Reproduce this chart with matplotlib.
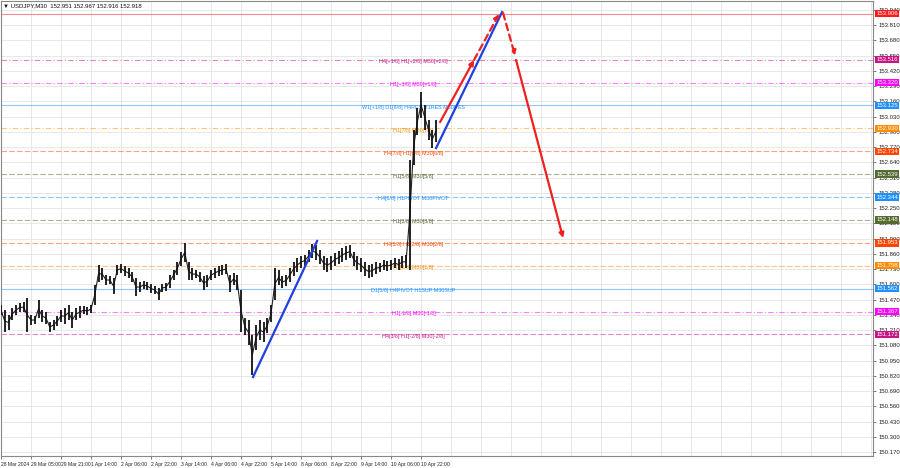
import numpy as np
from matplotlib import pyplot as plt
import matplotlib.transforms as mtransforms
from matplotlib import font_manager

# USDJPY M30, one high/low pair per 4 bars
hi = [151.423, 151.380, 151.338, 151.397, 151.423, 151.440, 151.448, 151.483, 151.338, 151.329,
      151.466, 151.380, 151.363, 151.278, 151.295, 151.329, 151.380, 151.397, 151.423, 151.363,
      151.397, 151.414, 151.414, 151.406, 151.423, 151.594, 151.764, 151.738, 151.679, 151.670,
      151.653, 151.764, 151.772, 151.755, 151.738, 151.704, 151.653, 151.619, 151.628, 151.619,
      151.602, 151.585, 151.568, 151.602, 151.611, 151.679, 151.721, 151.789, 151.875, 151.951,
      151.789, 151.738, 151.721, 151.704, 151.670, 151.679, 151.721, 151.738, 151.755, 151.764,
      151.772, 151.679, 151.696, 151.679, 151.551, 151.312, 151.295, 151.167, 151.253, 151.295,
      151.278, 151.312, 151.423, 151.738, 151.721, 151.670, 151.679, 151.738, 151.789, 151.824,
      151.841, 151.849, 151.892, 151.943, 151.934, 151.892, 151.841, 151.824, 151.841, 151.866,
      151.883, 151.909, 151.926, 151.934, 151.875, 151.841, 151.824, 151.789, 151.764, 151.772,
      151.789, 151.781, 151.807, 151.798, 151.807, 151.824, 151.815, 151.841, 151.849, 152.659,
      152.915, 153.102, 153.239, 153.128, 153.000, 152.915, 153.000]
lo = [151.338, 151.193, 151.210, 151.295, 151.338, 151.363, 151.363, 151.193, 151.253, 151.261,
      151.312, 151.278, 151.261, 151.193, 151.210, 151.244, 151.278, 151.261, 151.295, 151.227,
      151.295, 151.312, 151.346, 151.338, 151.355, 151.423, 151.619, 151.636, 151.594, 151.602,
      151.517, 151.679, 151.696, 151.670, 151.653, 151.619, 151.500, 151.534, 151.559, 151.551,
      151.525, 151.517, 151.466, 151.534, 151.542, 151.568, 151.636, 151.679, 151.755, 151.789,
      151.636, 151.636, 151.653, 151.619, 151.551, 151.576, 151.636, 151.653, 151.670, 151.679,
      151.687, 151.534, 151.594, 151.551, 151.193, 151.167, 151.082, 150.826, 151.040, 151.125,
      151.107, 151.184, 151.278, 151.466, 151.594, 151.568, 151.585, 151.619, 151.670, 151.704,
      151.738, 151.755, 151.789, 151.824, 151.807, 151.772, 151.721, 151.704, 151.721, 151.755,
      151.772, 151.789, 151.807, 151.824, 151.755, 151.721, 151.704, 151.670, 151.653, 151.662,
      151.687, 151.704, 151.721, 151.713, 151.721, 151.738, 151.721, 151.738, 151.738, 151.721,
      152.616, 152.872, 153.017, 152.915, 152.830, 152.761, 152.812]
bar_step = 4

levels = [153.906, 153.516, 153.320, 153.125, 152.930, 152.734, 152.539,
          152.344, 152.148, 151.953, 151.758, 151.562, 151.367, 151.172]
level_names = ["", "H4[+1/8] H1[+2/8] M30[+2/8]", "H1[+1/8] M30[+1/8]",
               "W1[+1/8] D1[8/8] H4RES H1RES M30RES", "H1[7/8] M30[7/8]",
               "H4[7/8] H1[6/8] M30[6/8]", "H1[5/8] M30[5/8]",
               "H4[6/8] H1PIVOT M30PIVOT", "H1[3/8] M30[3/8]",
               "H4[5/8] H1[2/8] M30[2/8]", "H1[1/8] M30[1/8]",
               "D1[5/8] H4PIVOT H1SUP M30SUP", "H1[-1/8] M30[-1/8]",
               "H4[3/8] H1[-2/8] M30[-2/8]"]
level_colors = ["#ff1a1a", "#c71585", "#ff00ff", "#1e90ff", "#ff8c00", "#ff4500", "#556b2f",
                "#1e90ff", "#556b2f", "#ff4500", "#ff8c00", "#1e90ff", "#ff00ff", "#c71585"]
level_styles = ["solid", "dashdot", "dashdot", "solid", "dashdot", "dashed", "dashed",
                "dashed", "dashed", "dashed", "dashed", "solid", "dashdot", "dashed"]

# trend lines: (bar, price) endpoints
blue_lines = [[(268.8, 150.809), (337.1, 151.969)],
              [(464.0, 152.761), (534.4, 153.921)]]
red_solid = [[(468.3, 152.983), (504.5, 153.512)],
             [(549.3, 153.512), (599.5, 151.994)]]
red_dashed = [[(504.5, 153.512), (531.2, 153.904)],
              [(535.5, 153.912), (548.3, 153.549)]]

time_labels = ["28 Mar 2024", "29 Mar 05:00", "29 Mar 21:00", "1 Apr 14:00", "2 Apr 06:00",
               "2 Apr 22:00", "3 Apr 14:00", "4 Apr 06:00", "4 Apr 22:00", "5 Apr 14:00",
               "8 Apr 06:00", "8 Apr 22:00", "9 Apr 14:00", "10 Apr 06:00", "10 Apr 22:00"]

installed = {f.name for f in font_manager.fontManager.ttflist}
small_font = "Liberation Sans Narrow" if "Liberation Sans Narrow" in installed else "Liberation Sans"
plt.rcParams["font.family"] = [small_font, "DejaVu Sans"]

W, H = 900, 468
fig = plt.figure(figsize=(W / 100, H / 100), dpi=100)
ax = fig.add_axes([1 / W, 12 / H, 872 / W, 455 / H])
ax.set_xlim(0, 930)
ax.set_ylim(150.136, 154.015)

# grid
price_ticks = [round(150.170 + 0.13 * i, 3) for i in range(30)]
for p in price_ticks:
    ax.axhline(p, color="#e4e4e4", lw=0.6, zorder=0)
for t in range(0, 930, 32):
    ax.axvline(t, color="#e4e4e4", lw=0.6, zorder=0)

# levels
dash_map = {"dashed": (0, (5, 2)), "dashdot": (0, (5, 2, 1, 2)), "solid": "-"}
for lv, name, c, st in zip(levels, level_names, level_colors, level_styles):
    ax.axhline(lv, color=c, lw=0.8, ls=dash_map[st], alpha=0.5, zorder=1)
    if name:
        ax.text(440, lv - 0.016, name, color=c, fontsize=3.9, ha="center", va="center", zorder=3)

# price bars
xs = np.arange(len(hi)) * bar_step
mid = (np.array(hi) + np.array(lo)) / 2
ax.plot(xs, mid, color="#222222", lw=0.8, zorder=4)
ax.vlines(xs, lo, hi, color="#111111", lw=1.3, zorder=4)

# trend lines and arrows
for seg in blue_lines:
    (x0, y0), (x1, y1) = seg
    ax.plot([x0, x1], [y0, y1], color="#1f3fe0", lw=1.6, zorder=5)
for seg in red_solid:
    (x0, y0), (x1, y1) = seg
    ax.annotate("", xy=(x1, y1), xytext=(x0, y0),
                arrowprops=dict(arrowstyle="-|>", color="#f02020", lw=1.6,
                                mutation_scale=7, shrinkA=0, shrinkB=0), zorder=5)
for seg in red_dashed:
    (x0, y0), (x1, y1) = seg
    ax.annotate("", xy=(x1, y1), xytext=(x0, y0),
                arrowprops=dict(arrowstyle="-|>", color="#f02020", lw=1.6, ls=(0, (3, 2)),
                                mutation_scale=7, shrinkA=0, shrinkB=0), zorder=5)

# axes styling
ax.yaxis.tick_right()
ax.set_yticks(price_ticks)
ax.set_yticklabels(["%.3f" % p for p in price_ticks], fontsize=4.3, color="#222222")
ax.tick_params(axis="y", length=2, width=0.5, pad=2, colors="#444444", labelcolor="#222222")
ax.set_xticks(np.arange(len(time_labels)) * 32)
ax.set_xticklabels(time_labels, fontsize=3.6, ha="left", color="#222222")
ax.tick_params(axis="x", length=2, width=0.5, pad=2, colors="#444444", labelcolor="#222222")
for s in ax.spines.values():
    s.set_color("#888888")
    s.set_linewidth(0.8)

# highlighted level prices on the price scale
trans = mtransforms.blended_transform_factory(ax.transAxes, ax.transData)
for lv, c in zip(levels, level_colors):
    ax.text(1.0035, lv, "%.3f" % lv, transform=trans, fontsize=4.3, color="white",
            ha="left", va="center", clip_on=False, zorder=6,
            bbox=dict(boxstyle="square,pad=0.2", fc=c, ec=c, lw=0))

fig.text(3 / W, 1 - 6 / H, "\u25bc USDJPY,M30  152.951 152.967 152.916 152.918",
         fontsize=4.3, color="#111111", va="center", ha="left")

fig.savefig("out.png", dpi=100, facecolor="white")
